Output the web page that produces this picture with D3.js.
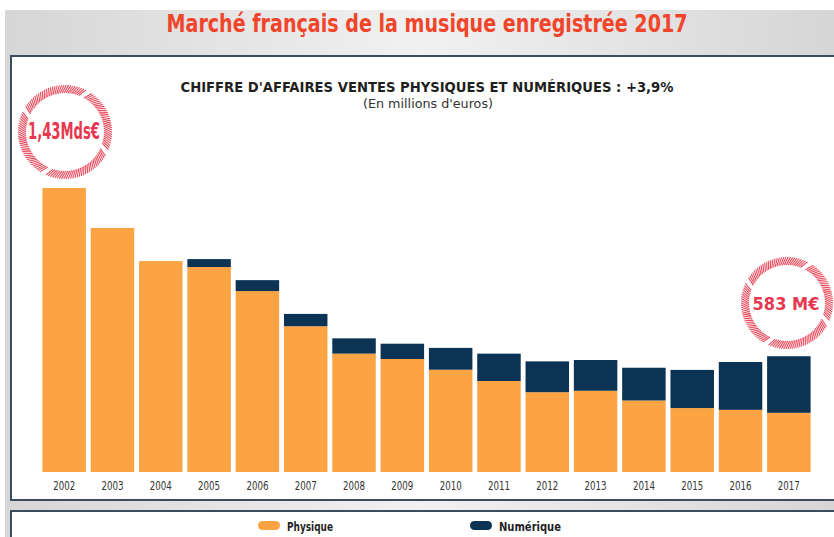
<!DOCTYPE html>
<html>
<head>
<meta charset="utf-8">
<script src="https://cdn.jsdelivr.net/npm/d3@7"></script>
<style>
  body { margin: 0; background: #fff; }
  svg { display: block; }
  .cond { font-family: "Liberation Sans Narrow", "DejaVu Sans Condensed", "Roboto Condensed", "Arial Narrow", sans-serif; }
</style>
</head>
<body>
<div id="chart"></div>
<script>
// Data (millions d'euros)
var years = ["2002","2003","2004","2005","2006","2007","2008","2009","2010","2011","2012","2013","2014","2015","2016","2017"];
var physique = [1430, 1229, 1062, 1032, 911, 734, 596, 569, 515, 458, 402, 409, 360, 322, 313, 298];
var numerique = [0, 0, 0, 40, 55, 62, 77, 77, 110, 138, 155, 155, 165, 192, 241, 285];
var series = ["Physique", "Numérique"];
var colors = ["#fca443", "#0d3354"];

var W = 834, H = 537;

var svg = d3.select("#chart").append("svg")
    .attr("width", W)
    .attr("height", H);

// background gradient (grey band)
var defs = svg.append("defs");
var grad = defs.append("linearGradient").attr("id", "bg")
    .attr("x1", "0%").attr("x2", "100%").attr("y1", "0%").attr("y2", "0%");
grad.append("stop").attr("offset", "0%").attr("stop-color", "#d6d6d6");
grad.append("stop").attr("offset", "50%").attr("stop-color", "#f1f1f1");
grad.append("stop").attr("offset", "100%").attr("stop-color", "#d6d6d6");

svg.append("rect")
    .attr("x", 5).attr("y", 10)
    .attr("width", W - 5).attr("height", H - 10)
    .attr("fill", "url(#bg)");

// title
svg.append("text")
    .attr("class", "cond")
    .attr("x", 427).attr("y", 32)
    .attr("text-anchor", "middle")
    .attr("textLength", 521).attr("lengthAdjust", "spacingAndGlyphs")
    .style("font-size", "24px").style("font-weight", "bold")
    .attr("fill", "#f0452b")
    .text("Marché français de la musique enregistrée 2017");

// main panel
svg.append("rect")
    .attr("x", 11).attr("y", 56)
    .attr("width", W - 9).attr("height", 444)
    .attr("fill", "#fff")
    .attr("stroke", "#3b4d5c").attr("stroke-width", 2);

// legend panel
svg.append("rect")
    .attr("x", 11).attr("y", 511)
    .attr("width", W - 9).attr("height", 40)
    .attr("fill", "#fff")
    .attr("stroke", "#3b4d5c").attr("stroke-width", 2);

// subtitles
svg.append("text")
    .attr("class", "cond")
    .attr("x", 427).attr("y", 92)
    .attr("text-anchor", "middle")
    .attr("textLength", 493).attr("lengthAdjust", "spacingAndGlyphs")
    .style("font-size", "14px").style("font-weight", "bold")
    .attr("fill", "#1f1f1f")
    .text("CHIFFRE D'AFFAIRES VENTES PHYSIQUES ET NUMÉRIQUES : +3,9%");

svg.append("text")
    .attr("class", "cond")
    .attr("x", 428).attr("y", 108)
    .attr("text-anchor", "middle")
    .attr("textLength", 130).attr("lengthAdjust", "spacingAndGlyphs")
    .style("font-size", "12px")
    .attr("fill", "#333")
    .text("(En millions d'euros)");

// scales
var xScale = d3.scaleBand()
    .domain(years)
    .range([40, 813])
    .paddingInner(0.1)
    .paddingOuter(0.05);

var yScale = d3.scaleLinear()
    .domain([0, 1430])
    .range([472, 188]);

// stack
var rows = years.map(function(y, i) {
    return { year: y, Physique: physique[i], "Numérique": numerique[i] };
});
var stacked = d3.stack().keys(series)(rows);

svg.append("g").selectAll("g")
    .data(stacked)
    .enter().append("g")
    .attr("fill", function(d, i) { return colors[i]; })
    .selectAll("rect")
    .data(function(d) { return d; })
    .enter().append("rect")
    .attr("x", function(d) { return xScale(d.data.year); })
    .attr("width", xScale.bandwidth())
    .attr("y", function(d) { return yScale(d[1]); })
    .attr("height", function(d) { return yScale(d[0]) - yScale(d[1]); });

// x axis labels
var xAxis = d3.axisBottom(xScale).tickSize(0).tickPadding(9);
var xg = svg.append("g")
    .attr("transform", "translate(0,472)")
    .call(xAxis);
xg.select(".domain").remove();
xg.selectAll("text")
    .attr("class", "cond")
    .attr("textLength", 22).attr("lengthAdjust", "spacingAndGlyphs")
    .style("font-size", "12px")
    .attr("fill", "#333");

// hatched stamps
function stamp(cx, cy, r, label, textLen, size) {
    var g = svg.append("g").attr("transform", "translate(" + cx + "," + cy + ")");
    var n = 130;
    d3.range(n).forEach(function(k) {
        var a = k / n * 2 * Math.PI;
        // leave a few small gaps in the ring
        if (k % 33 === 7 || k % 33 === 8) return;
        var a2 = a + 0.1;
        g.append("line")
            .attr("x1", (r - 5) * Math.cos(a)).attr("y1", (r - 5) * Math.sin(a))
            .attr("x2", (r + 3) * Math.cos(a2)).attr("y2", (r + 3) * Math.sin(a2))
            .attr("stroke", "#e94a5c").attr("stroke-width", 1.1);
    });
    var t = g.append("text")
        .attr("class", "cond")
        .attr("x", -1).attr("y", 7)
        .attr("text-anchor", "middle")
        .style("font-size", size + "px").style("font-weight", "bold")
        .attr("fill", "#e8384f")
        .text(label);
    if (textLen) t.attr("textLength", textLen).attr("lengthAdjust", "spacingAndGlyphs");
}
stamp(65, 132, 44, "1,43Mds€", 72, 23);
stamp(787, 303, 43, "583 M€", null, 18);

// legend
var legend = svg.append("g").selectAll("g")
    .data(series)
    .enter().append("g")
    .attr("transform", function(d, i) { return "translate(" + (i === 0 ? 258 : 470) + ",521)"; });
legend.append("rect")
    .attr("width", 22).attr("height", 9)
    .attr("rx", 4.5)
    .attr("fill", function(d, i) { return colors[i]; });
legend.append("text")
    .attr("class", "cond")
    .attr("x", 29).attr("y", 10)
    .attr("textLength", function(d, i) { return i === 0 ? 46 : 62; })
    .attr("lengthAdjust", "spacingAndGlyphs")
    .style("font-size", "13px").style("font-weight", "bold")
    .attr("fill", "#1f1f1f")
    .text(function(d) { return d; });
</script>
</body>
</html>
